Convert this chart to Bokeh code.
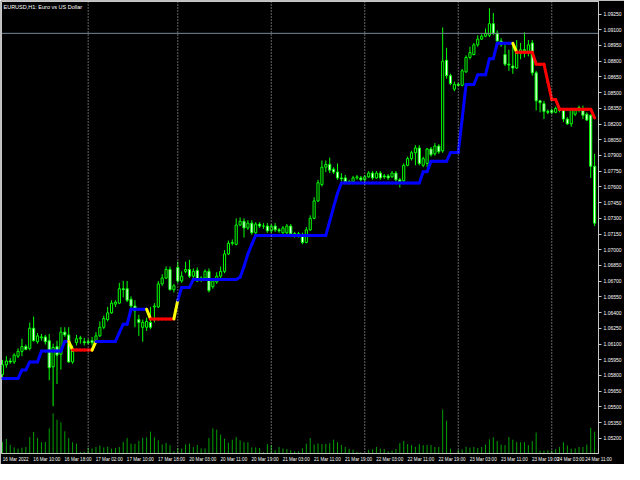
from bokeh.plotting import figure
from bokeh.models import Range1d, FixedTicker, Span, Label, PrintfTickFormatter
from bokeh.embed import file_html
from bokeh.resources import INLINE

# ---------------- data ----------------
opens = [1.05810, 1.05902, 1.05938, 1.05929, 1.05984, 1.06030, 1.06076, 1.06058, 1.06251, 1.06122,
         1.06159, 1.06168, 1.06132, 1.05883, 1.06076, 1.06003, 1.06214, 1.06187, 1.05929, 1.06113,
         1.06150, 1.06122, 1.06122, 1.06132, 1.06132, 1.06178, 1.06260, 1.06334, 1.06398, 1.06481,
         1.06490, 1.06628, 1.06628, 1.06527, 1.06463, 1.06334, 1.06260, 1.06260, 1.06306, 1.06454,
         1.06454, 1.06674, 1.06730, 1.06812, 1.06619, 1.06831, 1.06702, 1.06794, 1.06812, 1.06748,
         1.06803, 1.06730, 1.06730, 1.06794, 1.06647, 1.06693, 1.06748, 1.06794, 1.06960, 1.07061,
         1.07052, 1.07236, 1.07272, 1.07208, 1.07254, 1.07162, 1.07245, 1.07226, 1.07226, 1.07180,
         1.07226, 1.07190, 1.07162, 1.07162, 1.07226, 1.07153, 1.07134, 1.07144, 1.07070, 1.07190,
         1.07300, 1.07466, 1.07622, 1.07788, 1.07815, 1.07769, 1.07742, 1.07686, 1.07686, 1.07650,
         1.07650, 1.07686, 1.07686, 1.07668, 1.07696, 1.07732, 1.07686, 1.07732, 1.07705, 1.07705,
         1.07696, 1.07732, 1.07668, 1.07659, 1.07806, 1.07870, 1.07926, 1.07972, 1.07806, 1.07824,
         1.07962, 1.07916, 1.07990, 1.07944, 1.08809, 1.08662, 1.08533, 1.08579, 1.08570, 1.08698,
         1.08836, 1.08864, 1.08956, 1.09011, 1.09039, 1.09048, 1.09158, 1.09066, 1.08993, 1.08864,
         1.08772, 1.08754, 1.08735, 1.08873, 1.08910, 1.08882, 1.08974, 1.08689, 1.08422, 1.08395,
         1.08321, 1.08330, 1.08312, 1.08340, 1.08330, 1.08248, 1.08202, 1.08294, 1.08330, 1.08340,
         1.08294, 1.08284, 1.07797]

highs = [1.05948, 1.05984, 1.05966, 1.06012, 1.06058, 1.06150, 1.06095, 1.06306, 1.06362, 1.06205,
         1.06196, 1.06187, 1.06196, 1.06104, 1.06132, 1.06260, 1.06260, 1.06260, 1.06086, 1.06187,
         1.06178, 1.06159, 1.06150, 1.06168, 1.06214, 1.06316, 1.06371, 1.06454, 1.06518, 1.06518,
         1.06684, 1.06702, 1.06702, 1.06555, 1.06518, 1.06380, 1.06334, 1.06352, 1.06454, 1.06490,
         1.06702, 1.06766, 1.06840, 1.06840, 1.06674, 1.06886, 1.06794, 1.06886, 1.06904, 1.06822,
         1.06831, 1.06748, 1.06812, 1.06822, 1.06730, 1.06785, 1.06840, 1.06996, 1.07088, 1.07098,
         1.07300, 1.07309, 1.07300, 1.07282, 1.07282, 1.07263, 1.07263, 1.07254, 1.07254, 1.07245,
         1.07254, 1.07208, 1.07226, 1.07245, 1.07245, 1.07171, 1.07171, 1.07162, 1.07217, 1.07328,
         1.07502, 1.07668, 1.07852, 1.07852, 1.07880, 1.07788, 1.07824, 1.07732, 1.07714, 1.07668,
         1.07705, 1.07714, 1.07705, 1.07714, 1.07751, 1.07751, 1.07751, 1.07751, 1.07723, 1.07723,
         1.07751, 1.07751, 1.07686, 1.07824, 1.07889, 1.07944, 1.07999, 1.07999, 1.07889, 1.07972,
         1.07981, 1.08018, 1.08008, 1.09122, 1.08928, 1.08680, 1.08606, 1.08597, 1.08726, 1.08855,
         1.08938, 1.08974, 1.09048, 1.09057, 1.09112, 1.09306, 1.09260, 1.09094, 1.09020, 1.08974,
         1.08910, 1.08974, 1.09002, 1.08974, 1.09076, 1.09002, 1.09002, 1.08708, 1.08432, 1.08422,
         1.08340, 1.08349, 1.08367, 1.08358, 1.08340, 1.08266, 1.08340, 1.08349, 1.08376, 1.08376,
         1.08312, 1.08294, 1.07916]

lows = [1.05782, 1.05874, 1.05911, 1.05911, 1.05966, 1.05984, 1.06040, 1.06040, 1.06122, 1.06104,
        1.06132, 1.06095, 1.05754, 1.05506, 1.05718, 1.05856, 1.06168, 1.05920, 1.05911, 1.06086,
        1.06104, 1.06086, 1.06095, 1.06086, 1.06122, 1.06168, 1.06242, 1.06316, 1.06389, 1.06454,
        1.06481, 1.06546, 1.06500, 1.06444, 1.06260, 1.06178, 1.06122, 1.06224, 1.06242, 1.06306,
        1.06444, 1.06656, 1.06720, 1.06610, 1.06592, 1.06684, 1.06684, 1.06776, 1.06730, 1.06730,
        1.06693, 1.06693, 1.06702, 1.06592, 1.06628, 1.06674, 1.06730, 1.06776, 1.06950, 1.07042,
        1.07042, 1.07226, 1.07116, 1.07190, 1.07144, 1.07144, 1.07208, 1.07199, 1.07162, 1.07162,
        1.07171, 1.07162, 1.07153, 1.07144, 1.07134, 1.07116, 1.07116, 1.07052, 1.07061, 1.07180,
        1.07291, 1.07456, 1.07604, 1.07742, 1.07732, 1.07723, 1.07668, 1.07650, 1.07631, 1.07622,
        1.07631, 1.07668, 1.07650, 1.07650, 1.07686, 1.07668, 1.07677, 1.07668, 1.07677, 1.07668,
        1.07686, 1.07650, 1.07594, 1.07640, 1.07797, 1.07852, 1.07806, 1.07806, 1.07788, 1.07788,
        1.07889, 1.07898, 1.07916, 1.07926, 1.08634, 1.08570, 1.08514, 1.08560, 1.08560, 1.08689,
        1.08818, 1.08855, 1.08938, 1.09002, 1.09030, 1.09030, 1.09048, 1.08974, 1.08938, 1.08754,
        1.08708, 1.08680, 1.08726, 1.08818, 1.08836, 1.08846, 1.08662, 1.08330, 1.08312, 1.08248,
        1.08294, 1.08294, 1.08303, 1.08312, 1.08220, 1.08192, 1.08174, 1.08275, 1.08312, 1.08248,
        1.08229, 1.07686, 1.07226]

closes = [1.05902, 1.05938, 1.05929, 1.05994, 1.06030, 1.06076, 1.06049, 1.06251, 1.06132, 1.06178,
          1.06168, 1.06122, 1.05874, 1.06067, 1.05994, 1.06214, 1.06187, 1.05929, 1.06058, 1.06150,
          1.06159, 1.06113, 1.06113, 1.06113, 1.06178, 1.06260, 1.06343, 1.06398, 1.06490, 1.06500,
          1.06628, 1.06619, 1.06518, 1.06463, 1.06417, 1.06306, 1.06306, 1.06316, 1.06260, 1.06463,
          1.06674, 1.06730, 1.06812, 1.06619, 1.06656, 1.06702, 1.06748, 1.06812, 1.06748, 1.06794,
          1.06702, 1.06711, 1.06794, 1.06610, 1.06702, 1.06748, 1.06794, 1.06960, 1.07061, 1.07070,
          1.07236, 1.07272, 1.07208, 1.07254, 1.07162, 1.07245, 1.07226, 1.07226, 1.07180, 1.07226,
          1.07190, 1.07180, 1.07208, 1.07226, 1.07153, 1.07134, 1.07153, 1.07070, 1.07190, 1.07300,
          1.07466, 1.07640, 1.07788, 1.07815, 1.07760, 1.07742, 1.07686, 1.07677, 1.07650, 1.07640,
          1.07686, 1.07696, 1.07668, 1.07696, 1.07732, 1.07686, 1.07732, 1.07686, 1.07696, 1.07686,
          1.07732, 1.07668, 1.07650, 1.07806, 1.07870, 1.07926, 1.07972, 1.07824, 1.07870, 1.07962,
          1.07907, 1.07990, 1.07935, 1.08800, 1.08662, 1.08588, 1.08579, 1.08570, 1.08708, 1.08836,
          1.08882, 1.08956, 1.09011, 1.09039, 1.09066, 1.09158, 1.09066, 1.08993, 1.08956, 1.08772,
          1.08763, 1.08735, 1.08882, 1.08910, 1.08901, 1.08956, 1.08689, 1.08422, 1.08404, 1.08321,
          1.08312, 1.08312, 1.08349, 1.08330, 1.08248, 1.08202, 1.08330, 1.08330, 1.08358, 1.08284,
          1.08238, 1.07797, 1.07254]

tick_volumes = [1200, 1500, 900, 630, 500, 600, 670, 1700, 2230, 1600,
                1170, 1200, 2600, 4170, 3500, 3230, 2300, 1600, 1170, 1030,
                170, 170, 600, 530, 670, 830, 630, 700, 500, 570,
                670, 1200, 1600, 1030, 1000, 1300, 1630, 1670, 2270, 1670,
                1370, 930, 1100, 870, 230, 570, 500, 930, 1030, 670,
                870, 530, 530, 1600, 2600, 2470, 1970, 1530, 1130, 1430,
                1700, 1370, 1170, 1170, 630, 630, 570, 130, 970, 870,
                330, 670, 530, 470, 370, 230, 230, 530, 1030, 1600,
                930, 1030, 970, 1000, 1070, 1430, 1170, 900, 670, 470,
                400, 170, 130, 30, 370, 430, 670, 500, 470, 230,
                300, 470, 1070, 1300, 970, 870, 700, 970, 870, 870,
                870, 670, 670, 4570, 3400, 500, 30, 370, 430, 700,
                600, 670, 570, 670, 930, 1470, 1670, 1300, 930, 870,
                1700, 1430, 1200, 1170, 1170, 870, 1270, 2170, 300, 300,
                330, 330, 450, 670, 1170, 830, 500, 530, 670, 670,
                930, 2670, 2270]

# trend-following step line (indicator values per bar)
indicator = [1.05772, 1.05772, 1.05772, 1.05772, 1.05772, 1.05852, 1.05852, 1.05929, 1.05929, 1.05929,
             1.06033, 1.06033, 1.06033, 1.06033, 1.06033, 1.06033, 1.06125, 1.06125, 1.06042, 1.06042,
             1.06042, 1.06042, 1.06042, 1.06042, 1.06125, 1.06125, 1.06125, 1.06125, 1.06125, 1.06125,
             1.06208, 1.06290, 1.06290, 1.06432, 1.06432, 1.06432, 1.06432, 1.06432, 1.06340, 1.06340,
             1.06340, 1.06340, 1.06340, 1.06340, 1.06340, 1.06518, 1.06640, 1.06640, 1.06640, 1.06717,
             1.06717, 1.06717, 1.06717, 1.06717, 1.06717, 1.06717, 1.06717, 1.06717, 1.06717, 1.06717,
             1.06717, 1.06738, 1.06840, 1.06959, 1.07051, 1.07137, 1.07137, 1.07137, 1.07137, 1.07137,
             1.07137, 1.07137, 1.07137, 1.07137, 1.07137, 1.07137, 1.07137, 1.07137, 1.07137, 1.07137,
             1.07137, 1.07137, 1.07137, 1.07137, 1.07272, 1.07410, 1.07539, 1.07637, 1.07637, 1.07637,
             1.07637, 1.07637, 1.07637, 1.07637, 1.07637, 1.07637, 1.07637, 1.07637, 1.07637, 1.07637,
             1.07637, 1.07637, 1.07637, 1.07637, 1.07637, 1.07637, 1.07637, 1.07637, 1.07744, 1.07744,
             1.07845, 1.07845, 1.07845, 1.07845, 1.07845, 1.07928, 1.07928, 1.07928, 1.08250, 1.08578,
             1.08578, 1.08578, 1.08670, 1.08670, 1.08670, 1.08824, 1.08824, 1.08971, 1.08971, 1.08971,
             1.08971, 1.08971, 1.08885, 1.08885, 1.08885, 1.08885, 1.08885, 1.08772, 1.08772, 1.08772,
             1.08603, 1.08434, 1.08434, 1.08342, 1.08342, 1.08342, 1.08342, 1.08342, 1.08342, 1.08342,
             1.08342, 1.08342, 1.08259]

# trend runs: (first bar, last bar, direction)
trend_runs = [(0, 17, "up"), (18, 23, "down"), (24, 37, "up"), (38, 44, "down"),
              (45, 131, "up"), (132, 152, "down")]

price_ticks = [1.05200, 1.05350, 1.05500, 1.05650, 1.05800, 1.05950, 1.06100, 1.06250, 1.06400,
               1.06550, 1.06700, 1.06850, 1.07000, 1.07150, 1.07300, 1.07450, 1.07600, 1.07750,
               1.07900, 1.08050, 1.08200, 1.08350, 1.08500, 1.08650, 1.08800, 1.08950, 1.09100,
               1.09250]

time_tick_bars = [0, 8, 16, 24, 32, 40, 48, 56, 64, 72, 80, 88, 96, 104, 112, 120, 128, 136, 144, 152]
time_tick_labels = ["16 Mar 2022", "16 Mar 10:00", "16 Mar 18:00", "17 Mar 02:00", "17 Mar 10:00",
                    "17 Mar 18:00", "20 Mar 03:00", "20 Mar 11:00", "20 Mar 19:00", "21 Mar 03:00",
                    "21 Mar 11:00", "21 Mar 19:00", "22 Mar 03:00", "22 Mar 11:00", "22 Mar 19:00",
                    "23 Mar 03:00", "23 Mar 11:00", "23 Mar 19:00", "24 Mar 03:00", "24 Mar 11:00"]

day_start_bars = [22, 45, 69, 93, 117, 141]
bid_price = 1.09066
chart_title = "EURUSD,H1:  Euro vs US Dollar"

# ---------------- styling ----------------
FONT = "Liberation Sans"
LIME = "#00FF00"
VOL_GREEN = "#00A000"
TREND_COLORS = {"up": "#0000FF", "down": "#FF0000"}
SWITCH_COLOR = "#FFFF00"
AXIS_COLOR = "#C8C8C8"
X_START, X_END = -0.25, 153.0
LABEL_SHIFT = 3.4   # MT time labels start at their bar; Bokeh centres them

n = len(opens)
bars = list(range(n))

p = figure(width=624, height=464, output_backend="svg", toolbar_location=None,
           x_range=Range1d(X_START, X_END), y_range=Range1d(1.05055, 1.09370),
           y_axis_location="right",
           background_fill_color="black", border_fill_color="black",
           min_border_left=1, min_border_top=1, min_border_right=0, min_border_bottom=0)
p.grid.visible = False
p.outline_line_color = AXIS_COLOR

# volumes overlay
p.extra_y_ranges = {"vol": Range1d(0, 46900)}
p.segment(x0=bars, y0=[0] * n, x1=bars, y1=tick_volumes, y_range_name="vol",
          line_color=VOL_GREEN, line_width=1)

# day separators
for d in day_start_bars:
    p.add_layout(Span(location=d, dimension="height", line_color=AXIS_COLOR,
                      line_dash="1 2", line_width=1))

# bid line
p.add_layout(Span(location=bid_price, dimension="width", line_color="#778899", line_width=1))

# candles
body_top = [max(o, c) for o, c in zip(opens, closes)]
body_bot = [min(o, c) for o, c in zip(opens, closes)]
body_fill = ["black" if c >= o else "white" for o, c in zip(opens, closes)]
p.segment(x0=bars, y0=lows, x1=bars, y1=highs, line_color=LIME, line_width=1)
p.vbar(x=bars, width=0.55, top=body_top, bottom=body_bot, fill_color=body_fill,
       line_color=LIME, line_width=1)

# indicator step line
trend = [None] * n
for a, b, d in trend_runs:
    for i in range(a, b + 1):
        trend[i] = d
seg_colors = []
for i in range(n - 1):
    seg_colors.append(TREND_COLORS[trend[i]] if trend[i] == trend[i + 1] else SWITCH_COLOR)
p.segment(x0=bars[:-1], y0=indicator[:-1], x1=bars[1:], y1=indicator[1:],
          line_color=seg_colors, line_width=3, line_cap="round")

# title label
p.add_layout(Label(x=X_START, y=1.09370, x_offset=2, y_offset=-2, text=chart_title,
                   text_baseline="top", text_align="left", text_color="white",
                   text_font=FONT, text_font_size="5.5px"))

# axes
ya = p.yaxis[0]
ya.ticker = FixedTicker(ticks=price_ticks)
ya.formatter = PrintfTickFormatter(format="%.5f")
ya.major_label_text_color = "white"
ya.major_label_text_font = FONT
ya.major_label_text_font_size = "5px"
ya.axis_line_color = AXIS_COLOR
ya.major_tick_line_color = AXIS_COLOR
ya.major_tick_out = 3
ya.major_tick_in = 0
ya.minor_tick_line_color = None
ya.major_label_standoff = 2

# label centres: each label starts at its bar; the last one is pinned to the frame edge
label_pos = [b + LABEL_SHIFT for b in time_tick_bars]
label_pos[-1] = X_END
label_pos[-2] = min(label_pos[-2], X_END - 2 * LABEL_SHIFT - 0.3)
xa = p.xaxis[0]
xa.ticker = FixedTicker(ticks=label_pos)
xa.major_label_overrides = {pos: t for pos, t in zip(label_pos, time_tick_labels)}
xa.major_label_text_color = "white"
xa.major_label_text_font = FONT
xa.major_label_text_font_size = "4.6px"
xa.axis_line_color = AXIS_COLOR
xa.major_tick_line_color = None
xa.major_tick_out = 0
xa.major_tick_in = 0
xa.minor_tick_line_color = None
xa.major_label_standoff = 3

open("out.html", "w").write(file_html(p, INLINE))
